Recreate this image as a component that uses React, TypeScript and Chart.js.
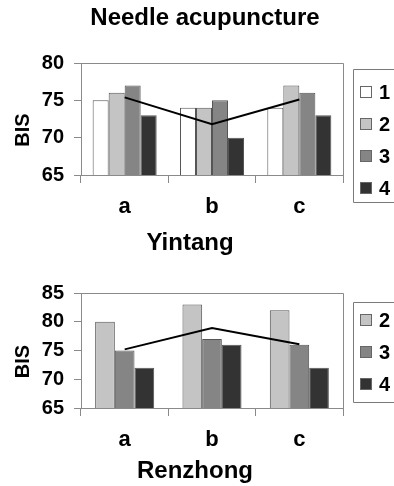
import React, { useEffect, useRef } from "react";
import { Chart, registerables } from "chart.js";
Chart.register(...registerables);

const FONT = "'Liberation Sans', Arial, sans-serif";

const categories = ["a", "b", "c"];
const seriesLabels = ["1", "2", "3", "4"];
const seriesColors = ["#ffffff", "#c4c4c4", "#858585", "#333333"];

const yintang1 = [75, 74, 74];
const yintang2 = [76, 74, 77];
const yintang3 = [77, 75, 76];
const yintang4 = [73, 70, 73];
const yintangLine = [75.4, 71.8, 75.1];

const renzhong2 = [80, 83, 82];
const renzhong3 = [75, 77, 76];
const renzhong4 = [72, 76, 72];
const renzhongLine = [75.2, 78.9, 76.1];

const topRange = [65, 80];
const bottomRange = [65, 85];

const framePlugin = {
  id: "frame",
  afterDraw(chart: any) {
    const { ctx, chartArea: a } = chart;
    ctx.save();
    ctx.strokeStyle = "#8a8a8a";
    ctx.lineWidth = 1;
    ctx.beginPath();
    ctx.moveTo(a.left, a.top + 0.5);
    ctx.lineTo(a.right + 0.5, a.top + 0.5);
    ctx.lineTo(a.right + 0.5, a.bottom);
    ctx.stroke();
    ctx.restore();
  },
};

const textsPlugin = {
  id: "texts",
  afterDraw(chart: any, _args: any, opts: any) {
    const { ctx, chartArea: a } = chart;
    ctx.save();
    ctx.fillStyle = "#000";
    ctx.textAlign = "center";
    ctx.textBaseline = "middle";
    ctx.save();
    ctx.translate(a.left - 58, (a.top + a.bottom) / 2 + 11);
    ctx.rotate(-Math.PI / 2);
    ctx.font = `bold 20px ${FONT}`;
    ctx.fillText(opts.yTitle, 0, 0);
    ctx.restore();
    ctx.font = `bold 24px ${FONT}`;
    ctx.fillText(opts.xTitle, opts.xTitleX, opts.xTitleY);
    ctx.restore();
  },
};

const legendBoxPlugin = {
  id: "legendBox",
  afterDraw(chart: any, _args: any, opts: any) {
    const { ctx } = chart;
    ctx.save();
    ctx.strokeStyle = "#7a7a7a";
    ctx.lineWidth = 1;
    ctx.beginPath();
    ctx.moveTo(420, opts.y + 0.5);
    ctx.lineTo(opts.x + 0.5, opts.y + 0.5);
    ctx.lineTo(opts.x + 0.5, opts.y + opts.h + 0.5);
    ctx.lineTo(420, opts.y + opts.h + 0.5);
    ctx.stroke();
    const bars = chart.data.datasets.filter((d: any) => d.type !== "line");
    bars.forEach((d: any, i: number) => {
      const cy = opts.y + opts.first + i * opts.gap;
      ctx.fillStyle = d.backgroundColor;
      ctx.fillRect(opts.x + 7, cy - 6, 12, 12);
      ctx.strokeStyle = "#666";
      ctx.strokeRect(opts.x + 7.5, cy - 5.5, 11, 11);
      ctx.fillStyle = "#000";
      ctx.font = `bold 20px ${FONT}`;
      ctx.textAlign = "left";
      ctx.textBaseline = "middle";
      ctx.fillText(d.label, opts.x + 26, cy + 1);
    });
    ctx.restore();
  },
};

function makeConfig(p: any) {
  const barSets = p.series.map((vals: number[], i: number) => ({
    type: "bar",
    label: p.labels[i],
    data: vals,
    backgroundColor: p.colors[i],
    borderColor: "#555555",
    borderWidth: 1,
    categoryPercentage: p.catPct,
    barPercentage: 1,
    order: 1,
  }));
  return {
    type: "bar",
    data: {
      labels: categories,
      datasets: [
        {
          type: "line",
          label: "mean",
          data: p.line,
          borderColor: "#000",
          borderWidth: 2,
          pointRadius: 0,
          tension: 0,
          fill: false,
          order: 0,
        },
        ...barSets,
      ],
    },
    options: {
      responsive: false,
      animation: false,
      devicePixelRatio: 1,
      layout: { padding: { left: 10, right: 0, top: p.padTop, bottom: 0 } },
      plugins: {
        legend: { display: false },
        tooltip: { enabled: false },
        title: p.title
          ? {
              display: true,
              text: p.title,
              color: "#000",
              font: { family: FONT, size: 24, weight: "bold" },
              padding: { top: 4, bottom: 30.2 },
            }
          : { display: false },
        texts: { yTitle: "BIS", xTitle: p.xTitle, xTitleX: p.xTitleX, xTitleY: p.xTitleY },
        legendBox: p.legend,
      },
      scales: {
        x: {
          offset: true,
          grid: {
            offset: true,
            drawOnChartArea: false,
            drawTicks: true,
            tickLength: 8,
            color: "#8a8a8a",
          },
          border: { color: "#8a8a8a" },
          ticks: {
            color: "#000",
            font: { family: FONT, size: 22, weight: "bold" },
            padding: 11,
            maxRotation: 0,
          },
          afterFit: (s: any) => {
            s.height = p.xHeight;
          },
        },
        y: {
          min: p.range[0],
          max: p.range[1],
          grid: {
            drawOnChartArea: false,
            drawTicks: true,
            tickLength: 7,
            color: "#8a8a8a",
          },
          border: { color: "#8a8a8a" },
          ticks: {
            stepSize: 5,
            color: "#000",
            font: { family: FONT, size: 20, weight: "bold" },
            padding: 10,
          },
          afterFit: (s: any) => {
            s.width = 71;
          },
        },
        y2: {
          position: "right",
          display: true,
          grid: { display: false },
          border: { display: false },
          ticks: { display: false },
          afterFit: (s: any) => {
            s.width = 57;
          },
        },
      },
    },
    plugins: [framePlugin, textsPlugin, legendBoxPlugin],
  };
}

function ChartCanvas({ config, width, height }: any) {
  const ref = useRef<HTMLCanvasElement>(null);
  useEffect(() => {
    const chart = new Chart(ref.current as HTMLCanvasElement, config);
    return () => chart.destroy();
  }, []);
  return <canvas ref={ref} width={width} height={height} style={{ display: "block", width, height }} />;
}

export default function App() {
  const topCfg = makeConfig({
    series: [yintang1, yintang2, yintang3, yintang4],
    labels: seriesLabels,
    colors: seriesColors,
    line: yintangLine,
    catPct: 0.733,
    range: topRange,
    title: "Needle acupuncture",
    xTitle: "Yintang",
    xTitleX: 190,
    xTitleY: 243,
    xHeight: 80,
    padTop: 0,
    legend: { x: 353, y: 69, h: 133, first: 23, gap: 32 },
  });
  const bottomCfg = makeConfig({
    series: [renzhong2, renzhong3, renzhong4],
    labels: seriesLabels.slice(1),
    colors: seriesColors.slice(1),
    line: renzhongLine,
    catPct: 0.676,
    range: bottomRange,
    title: null,
    xTitle: "Renzhong",
    xTitleX: 195,
    xTitleY: 216,
    xHeight: 78,
    padTop: 38,
    legend: { x: 353, y: 47, h: 100, first: 18, gap: 32 },
  });
  return (
    <div style={{ position: "fixed", left: 0, top: 0, width: 394, height: 486, background: "#fff", overflow: "hidden" }}>
      <div style={{ position: "absolute", left: 0, top: 0 }}>
        <ChartCanvas config={topCfg} width={400} height={255} />
      </div>
      <div style={{ position: "absolute", left: 0, top: 255 }}>
        <ChartCanvas config={bottomCfg} width={400} height={231} />
      </div>
    </div>
  );
}
